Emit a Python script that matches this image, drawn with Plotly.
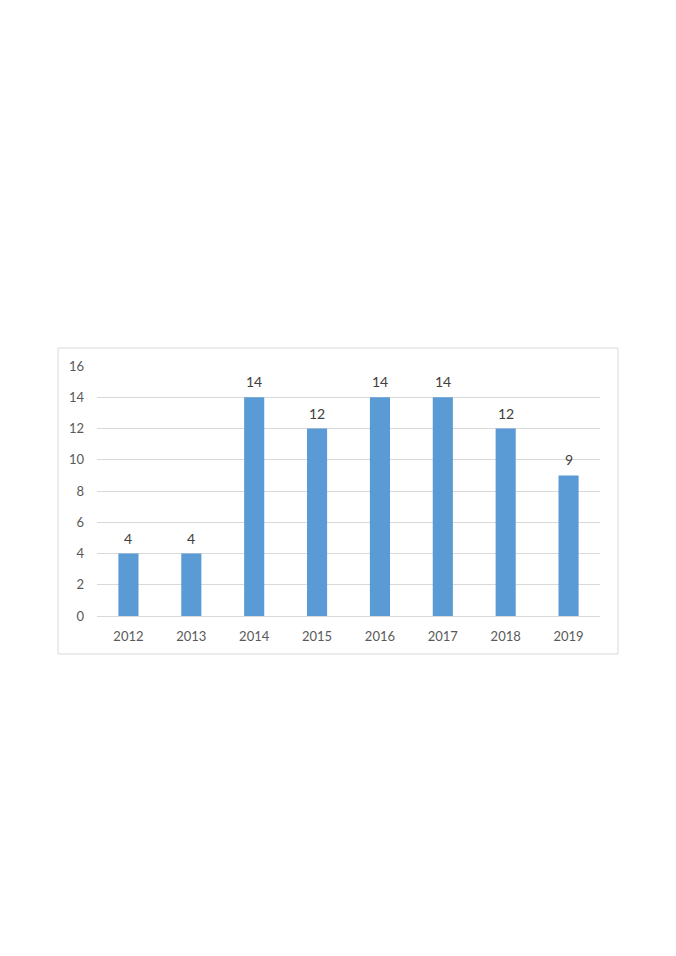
import plotly.graph_objects as go

# Chart data
years = ["2012", "2013", "2014", "2015", "2016", "2017", "2018", "2019"]
counts = [4, 4, 14, 12, 14, 14, 12, 9]
y_ticks = [0, 2, 4, 6, 8, 10, 12, 14, 16]

text_color = "#595959"
grid_color = "#D9D9D9"

fig = go.Figure(go.Bar(
    x=years,
    y=counts,
    marker_color="#5B9BD5",
    marker_line_width=0,
))

# data labels sit a little above each bar (x given as category index)
for i, c in enumerate(counts):
    fig.add_annotation(
        x=i, y=c, text=str(c), showarrow=False,
        yanchor="bottom", yshift=5,
        font=dict(size=14, color="#404040"),
    )

fig.update_layout(
    width=676,
    height=956,
    margin=dict(l=89, r=84, t=358, b=348),
    paper_bgcolor="white",
    plot_bgcolor="white",
    font=dict(family="Lato, Open Sans, sans-serif", size=13, color=text_color),
    bargap=0.68,
    showlegend=False,
)

fig.update_xaxes(
    type="category",
    showgrid=False,
    showline=True,
    linecolor=grid_color,
    linewidth=1,
    ticks="",
    ticklabelstandoff=8,
)

fig.update_yaxes(
    range=[0, 16],
    tickvals=y_ticks,
    showgrid=True,
    gridcolor=grid_color,
    gridwidth=1,
    zeroline=False,
    showline=False,
    ticks="",
    ticklabelstandoff=12,
)

# light grey frame around the chart area
fig.add_shape(
    type="rect", xref="paper", yref="paper",
    x0=-0.0775, x1=1.0358, y0=-0.152, y1=1.072,
    line=dict(color="#D9D9D9", width=1),
    fillcolor="rgba(0,0,0,0)",
    layer="below",
)

fig.write_html("out.html")
